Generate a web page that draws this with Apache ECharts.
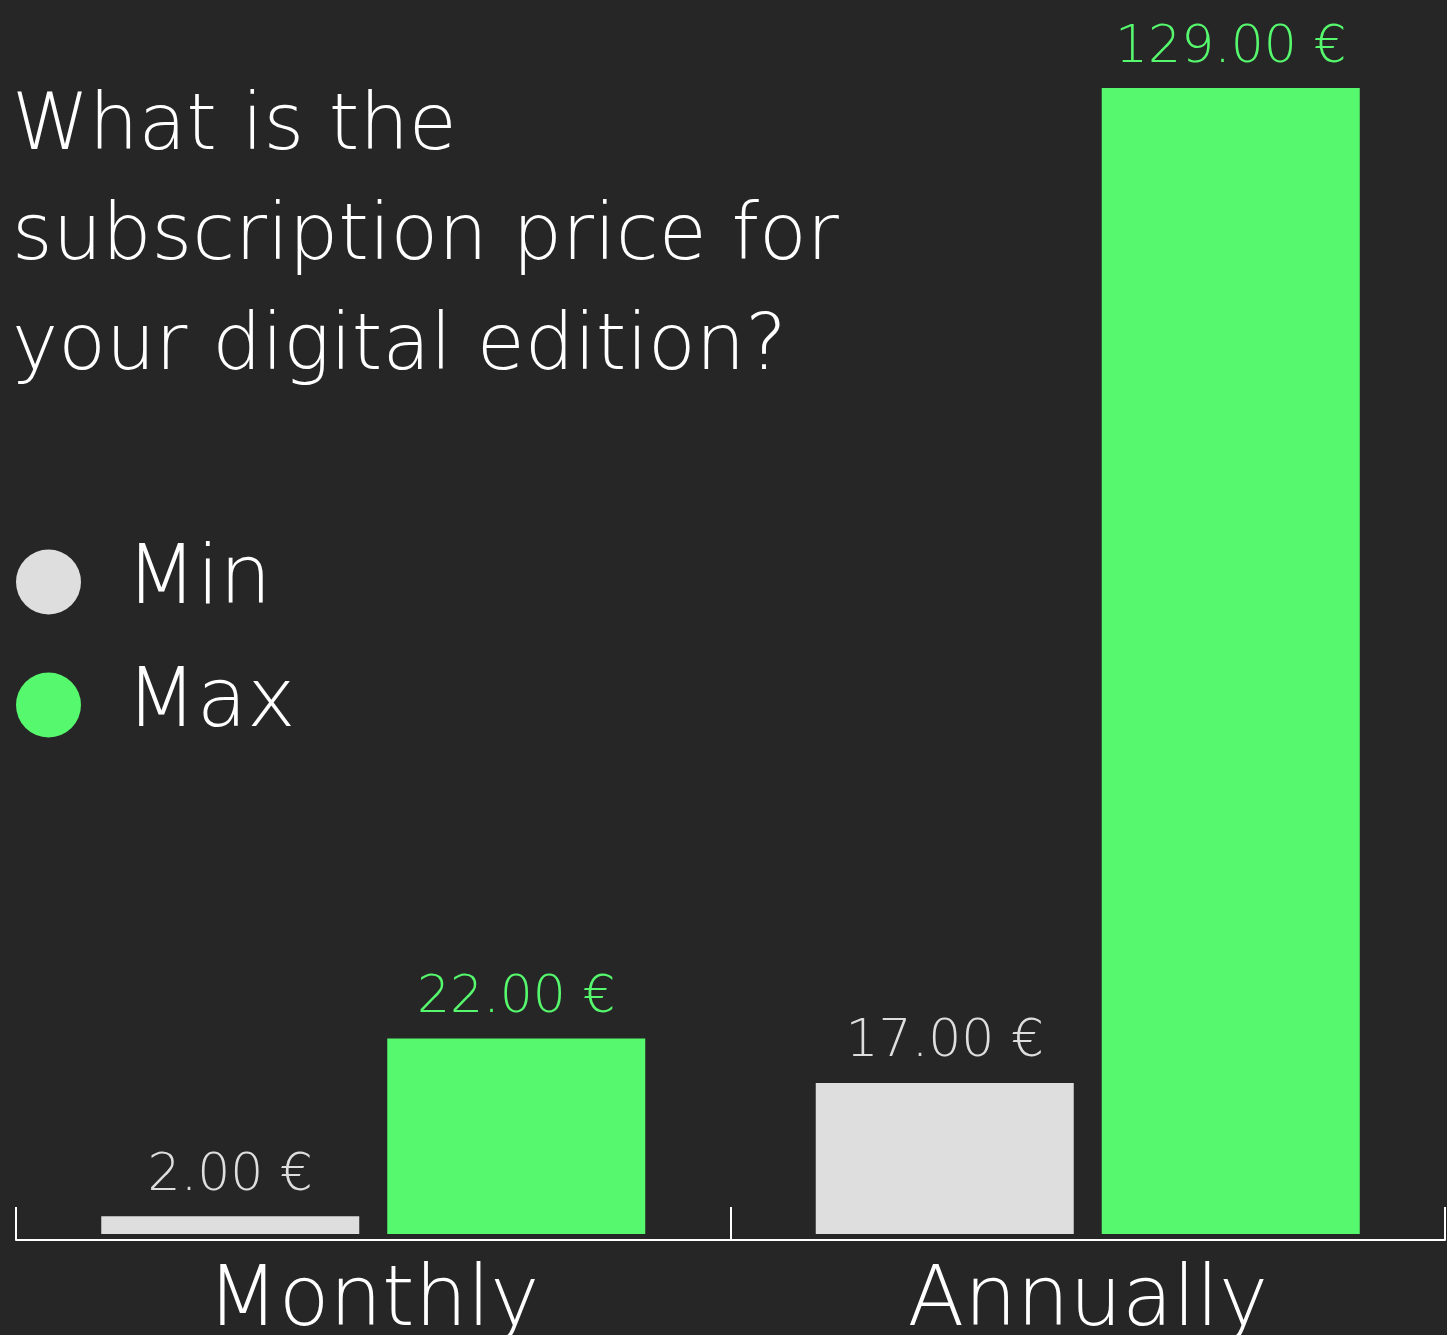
<!DOCTYPE html>
<html>
<head>
<meta charset="utf-8">
<script src="https://cdn.jsdelivr.net/npm/echarts@6/dist/echarts.min.js"></script>
<style>
  html, body { margin: 0; padding: 0; background: #262626; }
  #chart { width: 1447px; height: 1335px; }
</style>
</head>
<body>
<div id="chart"></div>
<script>
var categories = ['Monthly', 'Annually'];
var minValues = [2, 17];
var maxValues = [22, 129];
var seriesNames = ['Min', 'Max'];
var titleLines = ['What is the', 'subscription price for', 'your digital edition?'];

var FONT = '"DejaVu Sans"';
var GRAY = '#dedede';
var GREEN = '#56f86d';

function priceLabel(p) {
    return p.value.toFixed(2) + ' €';
}

var myChart = echarts.init(document.getElementById('chart'));
var option = {
    backgroundColor: '#262626',
    title: {
        text: titleLines.join('\n'),
        left: 12,
        top: 74,
        padding: 0,
        textStyle: {
            color: '#ffffff',
            fontFamily: FONT,
            fontWeight: 200,
            fontSize: 78,
            lineHeight: 110
        }
    },
    legend: {
        orient: 'vertical',
        left: 16,
        top: 538,
        padding: 0,
        icon: 'circle',
        itemWidth: 65,
        itemHeight: 65,
        itemGap: 35,
        textStyle: {
            color: '#ffffff',
            fontFamily: FONT,
            fontWeight: 200,
            fontSize: 82,
            lineHeight: 80,
            padding: [8, 0, 0, 40]
        },
        data: seriesNames
    },
    grid: {
        left: 16,
        right: 2,
        top: 88,
        bottom: 101,
        containLabel: false,
        outerBoundsMode: 'none'
    },
    xAxis: {
        type: 'category',
        data: categories,
        offset: 6,
        axisLine: { onZero: false, lineStyle: { color: '#ffffff', width: 2 } },
        axisTick: { show: true, inside: true, length: 33, lineStyle: { color: '#ffffff', width: 2 } },
        axisLabel: {
            color: '#ffffff',
            fontFamily: FONT,
            fontWeight: 200,
            fontSize: 83,
            margin: 22
        }
    },
    yAxis: {
        type: 'value',
        min: 0,
        max: 'dataMax',
        show: false,
        splitLine: { show: false }
    },
    series: [
        {
            name: seriesNames[0],
            type: 'bar',
            data: minValues,
            barWidth: 258,
            barGap: '10.85%',
            itemStyle: { color: GRAY },
            label: {
                show: true,
                position: 'top',
                distance: 14,
                formatter: priceLabel,
                color: GRAY,
                fontFamily: FONT,
                fontWeight: 200,
                fontSize: 52
            }
        },
        {
            name: seriesNames[1],
            type: 'bar',
            data: maxValues,
            barWidth: 258,
            itemStyle: { color: GREEN },
            label: {
                show: true,
                position: 'top',
                distance: 14,
                formatter: priceLabel,
                color: GREEN,
                fontFamily: FONT,
                fontWeight: 200,
                fontSize: 52
            }
        }
    ]
};
myChart.setOption(option);
</script>
</body>
</html>
